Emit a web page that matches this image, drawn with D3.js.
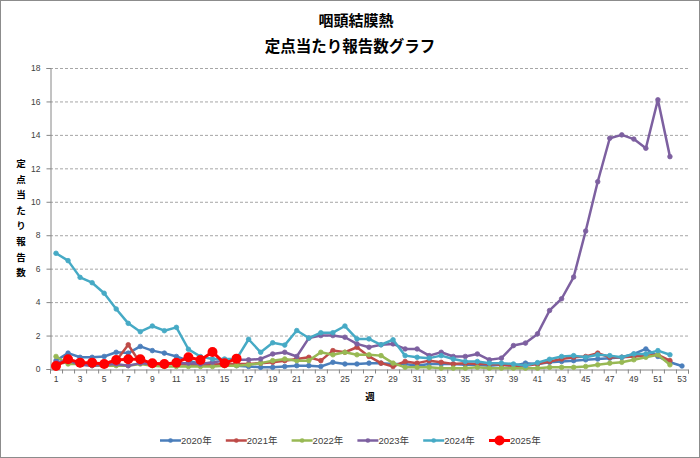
<!DOCTYPE html>
<html><head><meta charset="utf-8">
<script src="https://cdn.jsdelivr.net/npm/d3@7"></script>
<style>
html,body{margin:0;padding:0;background:#fff;}
svg{display:block;font-family:"Liberation Sans","DejaVu Sans",sans-serif;}
</style></head>
<body><svg id="c" width="700" height="458"></svg>
<script>
const weeks = d3.range(1, 54);
const xTickLabels = d3.range(1, 54, 2);
const yTicks = [0, 2, 4, 6, 8, 10, 12, 14, 16, 18];
const seriesNames = ["2020年", "2021年", "2022年", "2023年", "2024年", "2025年"];
const seriesColors = ["#4A7EBB", "#BE4B48", "#98B954", "#7D60A0", "#46AAC5", "#FF0000"];

const v2020 = [0.5,0.95,0.7,0.7,0.75,1.0,0.95,1.35,1.1,0.95,0.75,0.5,0.3,0.25,0.3,0.2,0.15,0.1,0.1,0.15,0.2,0.2,0.15,0.4,0.3,0.3,0.35,0.35,0.3,0.3,0.2,0.3,0.3,0.3,0.25,0.25,0.2,0.25,0.2,0.35,0.3,0.4,0.45,0.5,0.55,0.6,0.65,0.7,0.9,1.2,0.75,0.4,0.18];
const v2021 = [0.3,0.4,0.3,0.3,0.35,0.5,1.45,0.35,0.3,0.3,0.3,0.25,0.25,0.25,0.3,0.3,0.3,0.35,0.4,0.5,0.6,0.7,0.5,1.1,1.0,1.3,0.75,0.35,0.15,0.45,0.35,0.5,0.4,0.3,0.35,0.3,0.3,0.25,0.2,0.2,0.3,0.45,0.6,0.7,0.75,0.95,0.7,0.7,0.75,0.8,0.85,0.5];
const v2022 = [0.75,0.3,0.3,0.2,0.2,0.2,0.2,0.3,0.2,0.15,0.15,0.15,0.15,0.15,0.2,0.2,0.25,0.35,0.5,0.6,0.5,0.5,1.0,0.85,1.0,0.85,0.85,0.8,0.35,0.1,0.1,0.1,0.05,0.05,0.05,0.1,0.05,0.05,0.05,0.05,0.05,0.1,0.1,0.1,0.15,0.25,0.35,0.4,0.55,0.7,0.85,0.25];
const v2023 = [0.4,0.5,0.25,0.2,0.25,0.3,0.2,0.35,0.3,0.3,0.35,0.35,0.3,0.4,0.5,0.55,0.55,0.6,0.9,1.0,0.75,1.85,2.0,2.0,1.9,1.5,1.3,1.45,1.5,1.2,1.2,0.8,1.0,0.75,0.75,0.9,0.55,0.65,1.4,1.55,2.1,3.5,4.2,5.5,8.25,11.2,13.8,14.0,13.75,13.2,16.1,12.7];
const v2024 = [6.92,6.48,5.48,5.16,4.53,3.59,2.73,2.23,2.57,2.29,2.49,1.18,0.74,0.6,0.6,0.6,1.78,1.0,1.57,1.43,2.3,1.85,2.17,2.17,2.57,1.8,1.8,1.45,1.75,0.8,0.7,0.65,0.8,0.6,0.45,0.45,0.35,0.35,0.3,0.2,0.38,0.58,0.75,0.8,0.7,0.85,0.8,0.7,0.9,0.9,1.1,0.85];
const v2025 = [0.18,0.58,0.38,0.38,0.3,0.54,0.58,0.58,0.34,0.3,0.38,0.7,0.54,1.02,0.34,0.62];
const seriesValues = [v2020, v2021, v2022, v2023, v2024, v2025];

const svg = d3.select("#c");
const L = 50, R = 688, T = 68, B = 369;

svg.append("rect").attr("x",0.5).attr("y",0.5).attr("width",699).attr("height",457)
  .attr("fill","#fff").attr("stroke","#8c8c8c");

const x = d3.scaleBand().domain(weeks).range([L, R]).padding(0);
const xc = w => x(w) + x.bandwidth()/2;
const xb = d3.scaleLinear().domain([0.5, 53.5]).range([L, R]);
const y = d3.scaleLinear().domain([0, 18]).range([B, T]);

// gridlines
svg.append("g").selectAll("line").data(yTicks.filter(d => d > 0)).join("line")
  .attr("x1", L).attr("x2", R).attr("y1", d => y(d)+0.5).attr("y2", d => y(d)+0.5)
  .attr("stroke","#a6a6a6").attr("stroke-width",1).attr("stroke-dasharray","3,2");

// y axis
const ya = svg.append("g").attr("transform",`translate(${L+0.5},0)`)
  .call(d3.axisLeft(y).tickValues(yTicks).tickSize(4).tickPadding(6).tickFormat(d3.format("d")));
ya.select(".domain").attr("stroke","#868686");
ya.selectAll(".tick line").attr("stroke","#868686");
ya.selectAll("text").attr("font-size",8.5).attr("fill","#404040");

// x axis ticks at boundaries
const xa = svg.append("g").attr("transform",`translate(0,${B+0.5})`)
  .call(d3.axisBottom(xb).tickValues(d3.range(0.5, 54.5, 1)).tickSize(4).tickFormat(""));
xa.select(".domain").attr("stroke","#868686");
xa.selectAll(".tick line").attr("stroke","#868686");
// x labels
const xl = svg.append("g").attr("transform",`translate(0,${B})`)
  .call(d3.axisBottom(x).tickValues(xTickLabels).tickSize(0).tickPadding(7));
xl.select(".domain").remove();
xl.selectAll("text").attr("font-size",8.5).attr("fill","#404040");

// series
const line = d3.line().x((d,i) => xc(i+1)).y(d => y(d));
seriesValues.forEach((vals, si) => {
  const g = svg.append("g");
  const is25 = si === 5;
  g.append("path").datum(vals).attr("d", line).attr("fill","none")
    .attr("stroke", seriesColors[si]).attr("stroke-width", is25 ? 3 : 2.5)
    .attr("stroke-linejoin","round");
  g.selectAll("circle").data(vals).join("circle")
    .attr("cx",(d,i)=>xc(i+1)).attr("cy",d=>y(d)).attr("r", is25 ? 5 : 2.3)
    .attr("fill", seriesColors[si]).attr("stroke", seriesColors[si]).attr("stroke-width", is25?0:0.8);
});

// titles
const jp = '"Noto Sans CJK JP","Noto Sans CJK SC",sans-serif';
svg.append("text").attr("x",356).attr("y",26).attr("text-anchor","middle")
  .attr("font-family",jp).attr("font-weight","bold").attr("font-size",15).text("咽頭結膜熱");
svg.append("text").attr("x",350).attr("y",52).attr("text-anchor","middle")
  .attr("font-family",jp).attr("font-weight","bold").attr("font-size",15.5).text("定点当たり報告数グラフ");

// y title vertical
const yTitle = "定点当たり報告数";
svg.append("g").selectAll("text").data(Array.from(yTitle)).join("text")
  .attr("x",21).attr("y",(d,i)=>167 + i*15.6).attr("text-anchor","middle")
  .attr("font-family",jp).attr("font-weight","bold").attr("font-size",9.5).text(d=>d);

// x title
svg.append("text").attr("x",370).attr("y",400).attr("text-anchor","middle")
  .attr("font-family",jp).attr("font-weight","bold").attr("font-size",9.5).text("週");

// legend
const lg = svg.append("g");
seriesNames.forEach((n, i) => {
  const lx = 160 + i*65.8, ly = 440.5;
  lg.append("line").attr("x1",lx).attr("x2",lx+21).attr("y1",ly).attr("y2",ly)
    .attr("stroke",seriesColors[i]).attr("stroke-width", i===5?3:2.5);
  lg.append("circle").attr("cx",lx+10.5).attr("cy",ly).attr("r", i===5?5:2.3).attr("fill",seriesColors[i]);
  lg.append("text").attr("x",lx+21).attr("y",ly+3.5).attr("font-size",9.5).attr("fill","#404040")
    .attr("font-family",'"Liberation Sans","Noto Sans CJK JP",sans-serif').text(n);
});
</script></body></html>
